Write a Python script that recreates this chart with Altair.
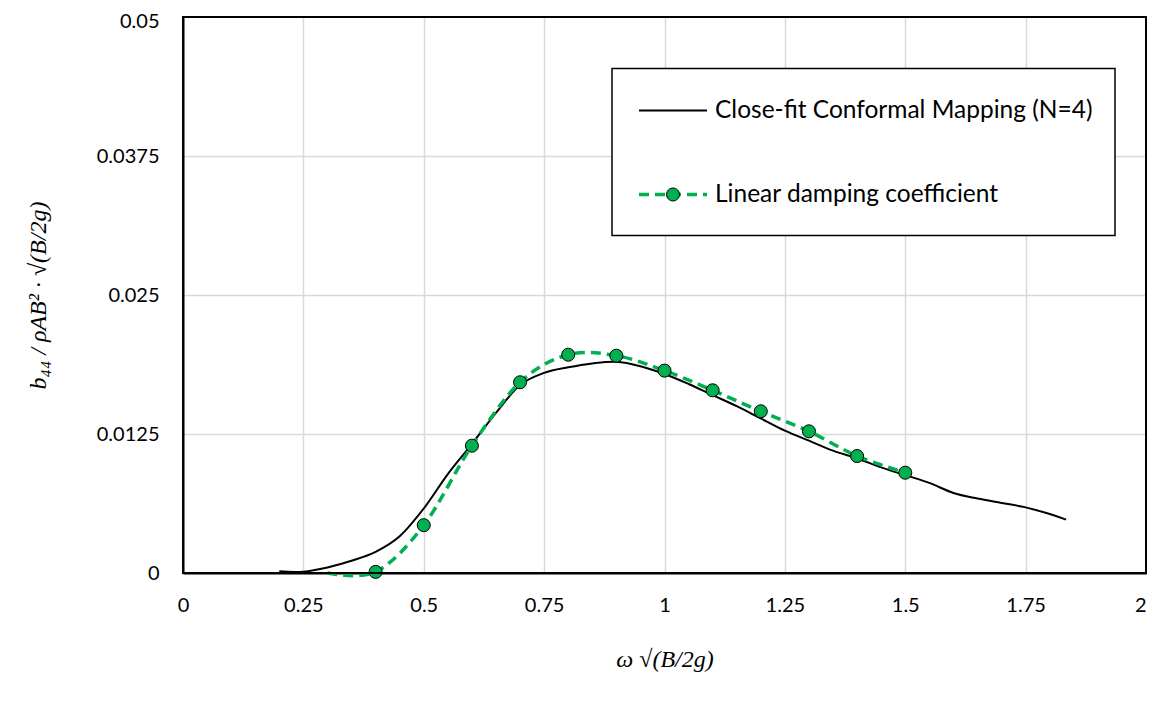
import altair as alt
import pandas as pd

# Close-fit conformal mapping (N=4) curve
cf_x = [0.2, 0.25, 0.3, 0.35, 0.4, 0.45, 0.5, 0.55, 0.6, 0.65, 0.7, 0.75, 0.8, 0.85,
        0.9, 0.95, 1.0, 1.05, 1.1, 1.15, 1.2, 1.25, 1.3, 1.35, 1.4, 1.45, 1.5, 1.55,
        1.6, 1.65, 1.7, 1.75, 1.8, 1.834]
cf_y = [0.00015, 0.00012, 0.0005, 0.0011, 0.0019, 0.0033, 0.0058, 0.0089, 0.0116,
        0.0144, 0.0169, 0.0180, 0.0185, 0.01885, 0.0190, 0.0186, 0.0179, 0.0170,
        0.0160, 0.0150, 0.0139, 0.0128, 0.0119, 0.0110, 0.0103, 0.0095, 0.0088,
        0.0081, 0.0072, 0.0067, 0.0063, 0.0059, 0.0053, 0.0048]

# Linear damping coefficient
ld_x = [0.3, 0.4, 0.5, 0.6, 0.7, 0.8, 0.9, 1.0, 1.1, 1.2, 1.3, 1.4, 1.5]
ld_y = [0.0, 0.0001, 0.0043, 0.01145, 0.01715, 0.01963, 0.01954, 0.0182, 0.01643,
        0.01454, 0.01274, 0.01052, 0.00902]
ld_marker = [False] + [True] * 12

x_ticks = [0, 0.25, 0.5, 0.75, 1, 1.25, 1.5, 1.75, 2]
y_ticks = [0, 0.0125, 0.025, 0.0375, 0.05]

legend_labels = ["Close-fit Conformal Mapping (N=4)", "Linear damping coefficient"]

GREEN = "#00b050"
FONT = "Lato"
GRID = "#d9d9d9"

cf = pd.DataFrame({"x": cf_x, "y": cf_y})
ld = pd.DataFrame({"x": ld_x, "y": ld_y, "m": ld_marker})

xs = alt.Scale(domain=[0, 2], nice=False, zero=False)
ys = alt.Scale(domain=[0, 0.05], nice=False, zero=False)

x_axis = alt.Axis(values=x_ticks, labelExpr="format(datum.value, '~g')",
                  title="ω √(B/2g)", titleFont="Liberation Serif", titleFontStyle="italic",
                  titleFontWeight="normal", titleFontSize=24, titlePadding=32,
                  labelFont=FONT, labelFontSize=20, labelPadding=22, labelColor="#000",
                  labelAlign={"condition": {"test": "datum.value >= 2", "value": "right"},
                              "value": "center"},
                  ticks=False, domainColor="#000", domainWidth=2,
                  gridColor={"condition": {"test": "datum.value >= 2",
                                           "value": "rgba(0,0,0,0)"}, "value": GRID},
                  gridWidth=1.5, labelFlush=False)
y_axis = alt.Axis(values=y_ticks, labelExpr="format(datum.value, '~g')",
                  title="b₄₄ / ρAB² · √(B/2g)", titleFont="Liberation Serif",
                  titleFontStyle="italic", titleFontWeight="normal", titleFontSize=24,
                  titlePadding=46, labelFont=FONT, labelFontSize=20, labelPadding=24,
                  labelOffset={"condition": {"test": "datum.value >= 0.05", "value": 4},
                               "value": 0},
                  labelColor="#000", ticks=False, domainColor="#000", domainWidth=2,
                  gridColor={"condition": {"test": "datum.value >= 0.05",
                                           "value": "rgba(0,0,0,0)"}, "value": GRID},
                  gridWidth=1.5, labelFlush=False)

black_line = alt.Chart(cf).mark_line(color="black", strokeWidth=2, interpolate="cardinal").encode(
    x=alt.X("x:Q", scale=xs, axis=x_axis),
    y=alt.Y("y:Q", scale=ys, axis=y_axis),
)

green_line = alt.Chart(ld).mark_line(color=GREEN, strokeWidth=3.5, strokeDash=[10, 6],
                                     interpolate="cardinal").encode(
    x=alt.X("x:Q", scale=xs), y=alt.Y("y:Q", scale=ys))

green_pts = alt.Chart(ld).transform_filter("datum.m").mark_point(
    shape="circle", filled=True, fill=GREEN, stroke="black", strokeWidth=1,
    size=170, opacity=1).encode(x=alt.X("x:Q", scale=xs), y=alt.Y("y:Q", scale=ys))

# Plot-area frame
frame = alt.Chart(pd.DataFrame({"a": [0]})).mark_rect(
    fillOpacity=0, stroke="black", strokeWidth=2).encode(
    x=alt.value(0), x2=alt.value("width"), y=alt.value(0), y2=alt.value("height"))

# Legend (manual, positioned in pixels within the plot area)
leg_box = alt.Chart(pd.DataFrame({"a": [0]})).mark_rect(
    fill="white", stroke="black", strokeWidth=1.5).encode(
    x=alt.value(429), x2=alt.value(932), y=alt.value(51.5), y2=alt.value(218.5))
leg_line1 = alt.Chart(pd.DataFrame({"a": [0]})).mark_rule(color="black", strokeWidth=2).encode(
    x=alt.value(456), x2=alt.value(524), y=alt.value(93.5))
leg_line2 = alt.Chart(pd.DataFrame({"a": [0]})).mark_rule(
    color=GREEN, strokeWidth=3.5, strokeDash=[10, 6]).encode(
    x=alt.value(456), x2=alt.value(524), y=alt.value(177.5))
leg_pt = alt.Chart(pd.DataFrame({"a": [0]})).mark_point(
    shape="circle", filled=True, fill=GREEN, stroke="black", strokeWidth=1,
    size=170, opacity=1).encode(x=alt.value(490), y=alt.value(177.5))
leg_text = alt.Chart(pd.DataFrame({"label": legend_labels, "py": [93.5, 177.5]})).mark_text(
    align="left", baseline="middle", font=FONT, fontSize=24.5, color="black").encode(
    x=alt.value(532), y=alt.Y("py:Q", scale=None), text="label:N")

chart = alt.layer(black_line, green_line, green_pts, frame, leg_box, leg_line1, leg_line2,
                  leg_pt, leg_text).properties(
    width=963, height=556,
    autosize=alt.AutoSizeParams(type="none"),
    padding={"left": 175, "top": 9, "right": 1, "bottom": 110},
).configure_view(stroke=None).configure(background="white")

chart.save("out.html", embed_options={"renderer": "svg", "actions": False})
